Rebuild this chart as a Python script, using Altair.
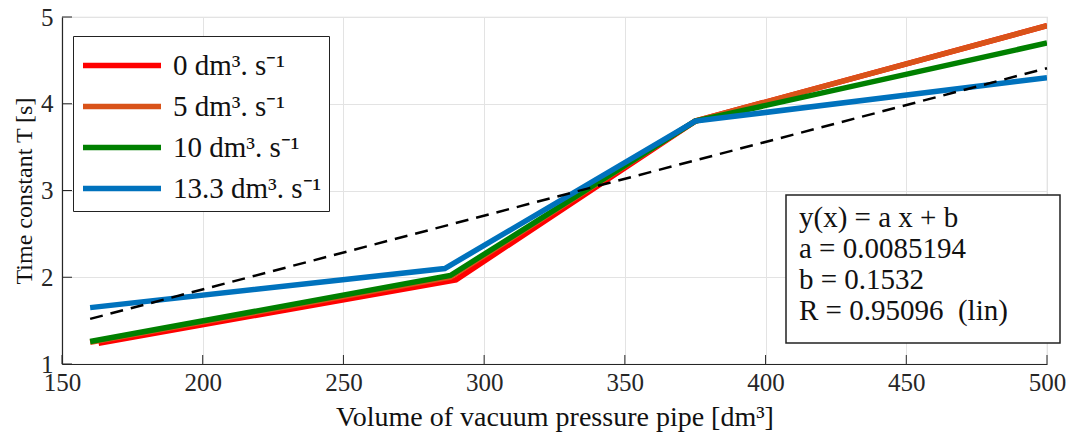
import altair as alt
import pandas as pd

# ---- data ----
series_names = ["0 dm³. s⁻¹", "5 dm³. s⁻¹", "10 dm³. s⁻¹", "13.3 dm³. s⁻¹"]
series_colors = ["#FF0000", "#D95319", "#008000", "#0072BD"]
x_0 = [163, 290, 375, 500]
y_0 = [1.24, 1.97, 3.80, 4.90]
x_5 = [160, 288, 375, 500]
y_5 = [1.25, 2.00, 3.80, 4.90]
x_10 = [160, 288, 375, 500]
y_10 = [1.26, 2.02, 3.80, 4.70]
x_13 = [160, 286, 375, 500]
y_13 = [1.65, 2.10, 3.80, 4.30]
fit_x = [160, 500]
fit_y = [1.52, 4.41]
x_ticks = [150, 200, 250, 300, 350, 400, 450, 500]
y_ticks = [1, 2, 3, 4, 5]
fit_text = ["y(x) = a x + b", "a = 0.0085194", "b = 0.1532", "R = 0.95096\u00a0 (lin)"]

W, H = 985, 347
FONT = "Liberation Serif"

rows = []
for name, xs_, ys_ in zip(series_names, [x_0, x_5, x_10, x_13], [y_0, y_5, y_10, y_13]):
    for i, (a, b) in enumerate(zip(xs_, ys_)):
        rows.append({"series": name, "x": a, "y": b, "order": i})
df = pd.DataFrame(rows)
fit_df = pd.DataFrame({"x": fit_x, "y": fit_y})

xs = alt.Scale(domain=[150, 500], nice=False)
ys = alt.Scale(domain=[1, 5], nice=False)

lines = alt.Chart(df).mark_line(strokeWidth=5.5, clip=True).encode(
    x=alt.X("x:Q", scale=xs,
            axis=alt.Axis(values=x_ticks, title="Volume of vacuum pressure pipe [dm³]",
                          format="d", grid=True, ticks=False, labelPadding=6, titlePadding=8,
                          labelFlush=False, labelFontSize=25, titleFontSize=28)),
    y=alt.Y("y:Q", scale=ys,
            axis=alt.Axis(values=y_ticks, title="Time constant T [s]", grid=True,
                          format="d", ticks=False, labelPadding=9, titlePadding=4,
                          labelFlush=False, labelFontSize=25, titleFontSize=24)),
    color=alt.Color("series:N", scale=alt.Scale(domain=series_names, range=series_colors),
                    legend=alt.Legend(title=None, orient="none", legendX=11, legendY=19,
                                      symbolType="M-1,0H3", symbolStrokeWidth=5.5,
                                      symbolSize=1521, labelFontSize=29, labelFont=FONT,
                                      labelColor="#111111",
                                      strokeColor="#222222", fillColor="white",
                                      padding=7, rowPadding=3, labelOffset=48,
                                      labelLimit=400)),
    order="order:Q",
)

fit = alt.Chart(fit_df).mark_line(color="black", strokeWidth=2.5, strokeDash=[13, 8]).encode(
    x=alt.X("x:Q", scale=xs), y=alt.Y("y:Q", scale=ys)
)

xt = alt.Chart(pd.DataFrame({"t": x_ticks})).mark_rule(color="#262626", strokeWidth=1).encode(
    x=alt.X("t:Q", scale=xs), y=alt.value(H), y2=alt.value(H - 9)
)
yt = alt.Chart(pd.DataFrame({"t": y_ticks})).mark_rule(color="#262626", strokeWidth=1).encode(
    y=alt.Y("t:Q", scale=ys), x=alt.value(0), x2=alt.value(10)
)

box = alt.Chart(pd.DataFrame({"k": [0]})).mark_rect(
    fill="white", stroke="#222222", strokeWidth=1.5
).encode(x=alt.value(724), x2=alt.value(998), y=alt.value(178), y2=alt.value(326))

text_layers = []
for i, line in enumerate(fit_text):
    text_layers.append(
        alt.Chart(pd.DataFrame({"line": [line]})).mark_text(
            align="left", baseline="middle", font=FONT, fontSize=29, color="#111111"
        ).encode(text="line:N", x=alt.value(737), y=alt.value(201 + 31 * i))
    )

chart = alt.layer(lines, fit, xt, yt, box, *text_layers).properties(
    width=W, height=H,
    autosize=alt.AutoSizeParams(type="none"),
    padding={"left": 54, "top": 9, "right": 20, "bottom": 72},
).configure_view(stroke="#d9d9d9", strokeWidth=1.2).configure_axis(
    domainColor="#262626", gridColor="#e3e3e3", labelColor="#262626", titleColor="#111111",
    labelFont=FONT, titleFont=FONT, titleFontWeight="normal", domainWidth=1.2
)

chart.save("out.html", embed_options={"renderer": "svg", "actions": False})
